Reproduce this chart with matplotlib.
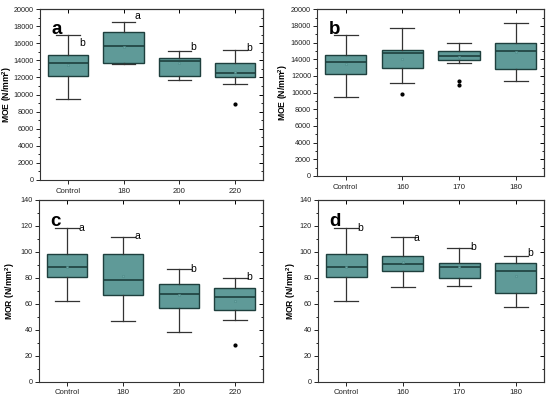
"""
Box plots of MOE and MOR for control and heat-treated samples (panels a-d)
"""

import matplotlib
matplotlib.use('Agg')
import matplotlib.pyplot as plt
from matplotlib.ticker import AutoMinorLocator

plt.rcParams['font.family'] = ['Liberation Sans', 'DejaVu Sans']
plt.rcParams['mathtext.fontset'] = 'custom'
plt.rcParams['mathtext.rm'] = 'Liberation Sans'
plt.rcParams['mathtext.bf'] = 'Liberation Sans:bold'

# ---- data ----
moe_a_labels = ['Control', '180', '200', '220']
moe_a_whislo = [9500, 13600, 11700, 11250]
moe_a_q1 = [12200, 13650, 12150, 12100]
moe_a_med = [13750, 15650, 13900, 12580]
moe_a_q3 = [14600, 17300, 14300, 13700]
moe_a_whishi = [16950, 18550, 15080, 15250]
moe_a_mean = [13450, 15620, 13650, 12650]
moe_a_fliers = [[], [], [], [8950]]
moe_a_letters = ['b', 'a', 'b', 'b']
moe_a_letter_y = [16000, 19200, 15600, 15400]

moe_b_labels = ['Control', '160', '170', '180']
moe_b_whislo = [9500, 11150, 13600, 11400]
moe_b_q1 = [12200, 13000, 13870, 12880]
moe_b_med = [13700, 14720, 14430, 14950]
moe_b_q3 = [14550, 15080, 15030, 16000]
moe_b_whishi = [16900, 17720, 16000, 18300]
moe_b_mean = [13400, 14080, 14250, 14920]
moe_b_fliers = [[], [9780], [11330, 10870], []]

mor_c_labels = ['Control', '180', '200', '220']
mor_c_whislo = [62.2, 46.8, 38.0, 47.8]
mor_c_q1 = [80.7, 66.5, 56.8, 55.5]
mor_c_med = [88.1, 78.4, 67.9, 65.5]
mor_c_q3 = [98.6, 98.2, 75.0, 72.0]
mor_c_whishi = [118.2, 111.8, 86.6, 79.9]
mor_c_mean = [88.0, 81.7, 67.0, 62.5]
mor_c_fliers = [[], [], [], [28.5]]
mor_c_letters = ['a', 'a', 'b', 'b']
mor_c_letter_y = [118.5, 112.3, 87.0, 80.3]

mor_d_labels = ['Control', '160', '170', '180']
mor_d_whislo = [62.2, 73.0, 73.8, 57.6]
mor_d_q1 = [80.7, 85.1, 79.7, 68.4]
mor_d_med = [88.1, 90.7, 88.2, 85.1]
mor_d_q3 = [98.6, 96.6, 91.8, 91.3]
mor_d_whishi = [118.2, 111.8, 103.3, 97.2]
mor_d_mean = [88.0, 92.5, 88.0, 81.7]
mor_d_fliers = [[], [], [], []]
mor_d_letters = ['b', 'a', 'b', 'b']
mor_d_letter_y = [118.0, 111.0, 103.5, 99.0]

BOX_FACE = '#5f9a98'
EDGE = '#1e3f3d'


def make_stats(labels, whislo, q1, med, q3, whishi, mean, fliers):
    return [dict(label=l, whislo=a, q1=b, med=c, q3=d, whishi=e, mean=m, fliers=f)
            for l, a, b, c, d, e, m, f in zip(labels, whislo, q1, med, q3, whishi, mean, fliers)]


def draw_panel(ax, stats, ylim, yticks, ylabel, tag, label_x, letters=None, letter_y=None):
    ax.bxp(stats, positions=range(1, len(stats) + 1), widths=0.73, patch_artist=True,
           showmeans=True, shownotches=False,
           boxprops=dict(facecolor=BOX_FACE, edgecolor=EDGE, linewidth=1.0),
           medianprops=dict(color=EDGE, linewidth=1.2),
           whiskerprops=dict(color='#333333', linewidth=0.9),
           capprops=dict(color='#333333', linewidth=0.9),
           capwidths=0.42,
           meanprops=dict(marker='s', markersize=2.0, markerfacecolor='#6fa8a6',
                          markeredgecolor='#4d8886', markeredgewidth=0.4),
           flierprops=dict(marker='o', markersize=2.0, markerfacecolor='black',
                           markeredgecolor='black'))
    ax.set_xlim(0.5, len(stats) + 0.5)
    ax.set_ylim(*ylim)
    ax.set_yticks(yticks)
    ax.yaxis.set_minor_locator(AutoMinorLocator(2))
    ax.tick_params(axis='both', which='major', length=3, width=0.7,
                   direction='out', colors='#222222', pad=2)
    ax.tick_params(axis='y', which='major', labelsize=5.2, pad=1.5)
    ax.tick_params(axis='x', which='major', labelsize=5.6, pad=2.5)
    ax.tick_params(axis='y', which='minor', length=1.8, width=0.6, direction='out')
    ax.tick_params(axis='x', which='minor', bottom=False)
    # mirrored ticks on top and right, drawn inside
    sec = ax.secondary_yaxis('right')
    sec.set_yticks(yticks)
    sec.yaxis.set_minor_locator(AutoMinorLocator(2))
    sec.tick_params(which='major', direction='in', length=3, width=0.7, labelright=False)
    sec.tick_params(which='minor', direction='in', length=1.8, width=0.6)
    secx = ax.secondary_xaxis('top')
    secx.set_xticks(range(1, len(stats) + 1))
    secx.tick_params(direction='in', length=3, width=0.7, labeltop=False)
    for s in list(ax.spines.values()) + [sec.spines['right'], secx.spines['top']]:
        s.set_linewidth(0.8)
        s.set_color('#333333')
    ax.set_ylabel(ylabel, fontsize=6.2, fontweight='bold')
    ax.yaxis.set_label_coords(label_x, 0.5)
    ax.text(0.05, 0.93, tag, transform=ax.transAxes, fontsize=13.5, fontweight='bold',
            va='top', ha='left')
    if letters:
        for i, (lt, y) in enumerate(zip(letters, letter_y)):
            ax.text(i + 1 + 0.2, y, lt, fontsize=7.5, ha='left', va='center')


fig = plt.figure(figsize=(5.5, 3.99), dpi=100)
fig.patch.set_facecolor('white')

ax_a = fig.add_axes([0.073, 0.549, 0.405, 0.428])
ax_b = fig.add_axes([0.577, 0.559, 0.412, 0.418])
ax_c = fig.add_axes([0.071, 0.043, 0.407, 0.456])
ax_d = fig.add_axes([0.578, 0.043, 0.411, 0.456])

moe_ticks = list(range(0, 20001, 2000))
mor_ticks = list(range(0, 141, 20))

draw_panel(ax_a, make_stats(moe_a_labels, moe_a_whislo, moe_a_q1, moe_a_med, moe_a_q3,
                            moe_a_whishi, moe_a_mean, moe_a_fliers),
           (0, 20000), moe_ticks, 'MOE (N/mm$^\\mathbf{2}$)', 'a', -0.117,
           moe_a_letters, moe_a_letter_y)
draw_panel(ax_b, make_stats(moe_b_labels, moe_b_whislo, moe_b_q1, moe_b_med, moe_b_q3,
                            moe_b_whishi, moe_b_mean, moe_b_fliers),
           (0, 20000), moe_ticks, 'MOE (N/mm$^\\mathbf{2}$)', 'b', -0.119)
draw_panel(ax_c, make_stats(mor_c_labels, mor_c_whislo, mor_c_q1, mor_c_med, mor_c_q3,
                            mor_c_whishi, mor_c_mean, mor_c_fliers),
           (0, 140), mor_ticks, 'MOR (N/mm$^\\mathbf{2}$)', 'c', -0.098,
           mor_c_letters, mor_c_letter_y)
draw_panel(ax_d, make_stats(mor_d_labels, mor_d_whislo, mor_d_q1, mor_d_med, mor_d_q3,
                            mor_d_whishi, mor_d_mean, mor_d_fliers),
           (0, 140), mor_ticks, 'MOR (N/mm$^\\mathbf{2}$)', 'd', -0.088,
           mor_d_letters, mor_d_letter_y)

plt.savefig('out.png', dpi=100, facecolor=fig.get_facecolor())
plt.close()
